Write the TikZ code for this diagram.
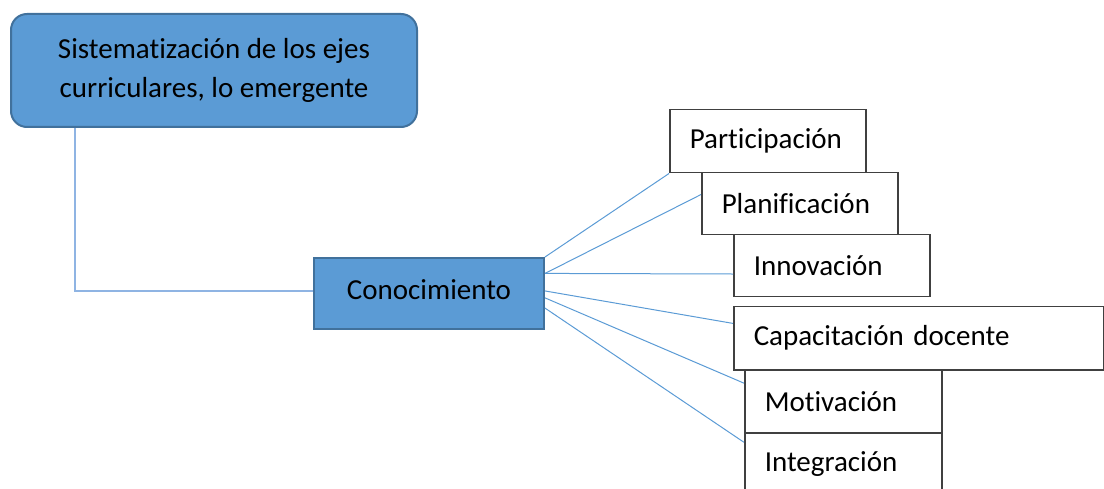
\documentclass[tikz,border=0pt]{standalone}
\usepackage{fontspec}
\setmainfont{Carlito}[Ligatures=NoCommon]
\usetikzlibrary{calc}
\definecolor{boxblue}{HTML}{5B9BD5}
\definecolor{boxedge}{HTML}{41719C}
\definecolor{linkblue}{HTML}{5B9BD5}
\definecolor{elbowblue}{HTML}{8FB4E3}
\definecolor{edgegray}{HTML}{404040}
\begin{document}
\begin{tikzpicture}[x=1pt,y=-1pt,
  bluebox/.style={draw=boxedge, fill=boxblue, line width=2pt, font=\fontsize{29}{39}\selectfont, align=center, inner sep=0pt, anchor=north west},
  itembox/.style={draw=edgegray, fill=white, line width=1.5pt, font=\fontsize{29}{35}\selectfont, anchor=north west, inner xsep=20pt, inner ysep=0pt, align=left},
  link/.style={draw=linkblue, line width=1pt},
  elbow/.style={draw=elbowblue, line width=2pt}]
\useasboundingbox (0,0) rectangle (1104,489);
\clip (0,0) rectangle (1104,489);

\node[bluebox, rounded corners=16pt, minimum width=406pt, minimum height=113pt] (top) at (10,13)
  {Sistematización de los ejes\\curriculares, lo emergente};
\node[bluebox, minimum width=230pt, minimum height=71pt, text height=21pt, text depth=8pt] (conoc) at (313,257) {Conocimiento};

\node[itembox, text width=156pt, minimum height=63pt] (part) at (669,109) {Participación};
\node[itembox, text width=156pt, minimum height=62pt] (plan) at (701,172) {Planificación};
\node[itembox, text width=156pt, minimum height=62pt] (inno) at (733,234) {Innovación};
\node[itembox, text width=330pt, minimum height=63pt] (capa) at (733,306) {Capacitación docente};
\node[itembox, text width=157pt, minimum height=63pt] (moti) at (744,369) {Motivación};
\node[itembox, text width=157pt, minimum height=63pt] (integ) at (744,432) {Integración};

\draw[elbow] ($(top.south west)!0.16!(top.south east)$) |- ($(conoc.north west)!0.46!(conoc.south west)$);

\draw[link] (conoc.north east) -- (part.south west);
\draw[link] ($(conoc.north east)!0.225!(conoc.south east)$) -- ($(plan.north west)!0.355!(plan.south west)$);
\draw[link] ($(conoc.north east)!0.225!(conoc.south east)$) -- ($(inno.north west)!0.63!(inno.south west)$);
\draw[link] ($(conoc.north east)!0.465!(conoc.south east)$) -- ($(capa.north west)!0.27!(capa.south west)$);
\draw[link] ($(conoc.north east)!0.56!(conoc.south east)$) -- ($(moti.north west)!0.22!(moti.south west)$);
\draw[link] ($(conoc.north east)!0.70!(conoc.south east)$) -- ($(integ.north west)!0.16!(integ.south west)$);
\end{tikzpicture}
\end{document}
